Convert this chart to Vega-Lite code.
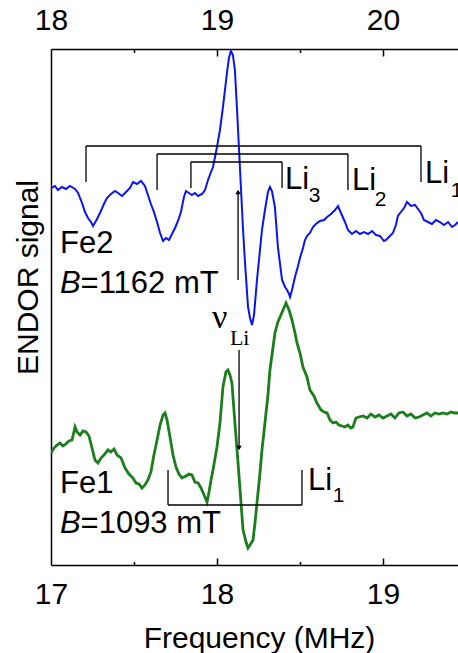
{
"$schema": "https://vega.github.io/schema/vega-lite/v6.json",
"width": 407, "height": 516,
"autosize": {"type": "none"},
"padding": {"left": 51, "top": 49, "right": 0, "bottom": 88},
"config": {"view": {"stroke": null}, "font": "Liberation Sans"},
"resolve": {"scale": {"x": "independent"}, "axis": {"x": "independent"}},
"layer": [
{
 "encoding": {
  "x": {"field": "f", "type": "quantitative", "scale": {"domain": [18, 20.452], "nice": false, "zero": false},
   "axis": {"orient": "top", "values": [18, 19, 20], "format": "d",
    "ticks": false, "domainColor": "black", "domainWidth": 1.5, "grid": false,
    "labelFontSize": 30, "labelFont": "Liberation Sans", "labelColor": "black", "labelPadding": 14, "labelFlush": false, "labelOverlap": false, "title": null}},
  "y": {"field": "s", "type": "quantitative", "scale": {"domain": [0, 516], "nice": false, "zero": false},
   "axis": {"ticks": false, "labels": false, "grid": false, "domainColor": "black", "domainWidth": 1.5, "title": "ENDOR signal",
    "titleFontSize": 30, "titleFont": "Liberation Sans", "titleFontWeight": "normal", "titleColor": "black", "titlePadding": 8, "titleY": 228}}
 },
 "layer": [
  {"data": {"values": [
{"f":18.000,"s":377},{"f":18.024,"s":379},{"f":18.042,"s":375},{"f":18.066,"s":378},{"f":18.090,"s":376},{"f":18.114,"s":379},{"f":18.145,"s":376},{"f":18.163,"s":372},{"f":18.187,"s":362},{"f":18.205,"s":353},{"f":18.223,"s":347},{"f":18.241,"s":343},{"f":18.253,"s":339},{"f":18.271,"s":344},{"f":18.295,"s":352},{"f":18.319,"s":361},{"f":18.337,"s":367},{"f":18.361,"s":371},{"f":18.386,"s":374},{"f":18.404,"s":372},{"f":18.428,"s":369},{"f":18.452,"s":373},{"f":18.476,"s":377},{"f":18.494,"s":383},{"f":18.518,"s":381},{"f":18.542,"s":384},{"f":18.566,"s":379},{"f":18.584,"s":370},{"f":18.602,"s":361},{"f":18.620,"s":353},{"f":18.639,"s":343},{"f":18.657,"s":332},{"f":18.675,"s":324},{"f":18.693,"s":327},{"f":18.711,"s":325},{"f":18.729,"s":331},{"f":18.747,"s":337},{"f":18.765,"s":344},{"f":18.783,"s":353},{"f":18.801,"s":368},{"f":18.813,"s":374},{"f":18.831,"s":372},{"f":18.849,"s":370},{"f":18.867,"s":372},{"f":18.886,"s":369},{"f":18.910,"s":371},{"f":18.928,"s":375},{"f":18.946,"s":385},{"f":18.964,"s":393},{"f":18.976,"s":398},{"f":19.000,"s":418},{"f":19.018,"s":435},{"f":19.036,"s":458},{"f":19.060,"s":492},{"f":19.072,"s":507},{"f":19.084,"s":514},{"f":19.096,"s":510},{"f":19.108,"s":495},{"f":19.120,"s":458},{"f":19.133,"s":415},{"f":19.145,"s":375},{"f":19.157,"s":335},{"f":19.169,"s":302},{"f":19.187,"s":258},{"f":19.199,"s":247},{"f":19.211,"s":240},{"f":19.223,"s":250},{"f":19.241,"s":285},{"f":19.259,"s":315},{"f":19.271,"s":335},{"f":19.289,"s":355},{"f":19.307,"s":373},{"f":19.319,"s":378},{"f":19.331,"s":374},{"f":19.349,"s":358},{"f":19.367,"s":318},{"f":19.392,"s":285},{"f":19.410,"s":278},{"f":19.422,"s":275},{"f":19.434,"s":271},{"f":19.440,"s":268},{"f":19.452,"s":275},{"f":19.470,"s":288},{"f":19.488,"s":299},{"f":19.500,"s":307},{"f":19.518,"s":317},{"f":19.530,"s":325},{"f":19.542,"s":329},{"f":19.560,"s":332},{"f":19.578,"s":338},{"f":19.596,"s":341},{"f":19.620,"s":344},{"f":19.645,"s":345},{"f":19.663,"s":348},{"f":19.687,"s":351},{"f":19.711,"s":355},{"f":19.729,"s":359},{"f":19.747,"s":352},{"f":19.771,"s":343},{"f":19.789,"s":335},{"f":19.813,"s":331},{"f":19.837,"s":334},{"f":19.861,"s":331},{"f":19.886,"s":333},{"f":19.910,"s":331},{"f":19.934,"s":334},{"f":19.958,"s":330},{"f":19.982,"s":329},{"f":20.006,"s":324},{"f":20.018,"s":325},{"f":20.036,"s":328},{"f":20.060,"s":332},{"f":20.078,"s":340},{"f":20.090,"s":349},{"f":20.108,"s":353},{"f":20.127,"s":357},{"f":20.145,"s":363},{"f":20.169,"s":359},{"f":20.193,"s":360},{"f":20.211,"s":356},{"f":20.229,"s":352},{"f":20.247,"s":345},{"f":20.271,"s":343},{"f":20.295,"s":341},{"f":20.319,"s":345},{"f":20.343,"s":343},{"f":20.367,"s":340},{"f":20.392,"s":343},{"f":20.416,"s":338},{"f":20.434,"s":340},{"f":20.452,"s":343}
  ]}, "mark": {"type": "line", "color": "#0a14f0", "strokeWidth": 2, "clip": true}},
  {"data": {"values": [
{"f":18.211,"f2":20.229,"s":419,"s2":419},{"f":18.211,"f2":18.211,"s":419,"s2":383},{"f":20.229,"f2":20.229,"s":419,"s2":383},
{"f":18.639,"f2":19.789,"s":411,"s2":411},{"f":18.639,"f2":18.639,"s":411,"s2":375},{"f":19.789,"f2":19.789,"s":411,"s2":375},
{"f":18.843,"f2":19.392,"s":403,"s2":403},{"f":18.843,"f2":18.843,"s":403,"s2":377},{"f":19.392,"f2":19.392,"s":403,"s2":377},
{"f":19.127,"f2":19.127,"s":285,"s2":374}
  ]}, "mark": {"type": "rule", "color": "black", "strokeWidth": 1.3},
   "encoding": {"x2": {"field": "f2"}, "y2": {"field": "s2"}}},
  {"data": {"values": [{"f":19.127,"s":373}]}, "mark": {"type": "point", "shape": "triangle-up", "filled": true, "color": "black", "size": 30, "opacity": 1}},
  {"data": {"values": [{"f":18.054,"s":312,"t":"Fe2"},{"f":18.178,"s":272,"t":"=1162 mT"},{"f":19.410,"s":376,"t":"Li"},{"f":19.813,"s":375,"t":"Li"},{"f":20.253,"s":382,"t":"Li"}]},
   "mark": {"type": "text", "align": "left", "baseline": "alphabetic", "fontSize": 31, "font": "Liberation Sans", "color": "black"},
   "encoding": {"text": {"field": "t"}}},
  {"data": {"values": [{"f":18.054,"s":272,"t":"B"}]},
   "mark": {"type": "text", "align": "left", "baseline": "alphabetic", "fontSize": 31, "fontStyle": "italic", "font": "Liberation Sans", "color": "black"},
   "encoding": {"text": {"field": "t"}}},
  {"data": {"values": [{"f":19.553,"s":363,"t":"3"},{"f":19.951,"s":359,"t":"2"},{"f":20.409,"s":368,"t":"1"}]},
   "mark": {"type": "text", "align": "left", "baseline": "alphabetic", "fontSize": 21, "font": "Liberation Sans", "color": "black"},
   "encoding": {"text": {"field": "t"}}}
 ]
},
{
 "encoding": {
  "x": {"field": "f", "type": "quantitative", "scale": {"domain": [17, 19.452], "nice": false, "zero": false},
   "axis": {"orient": "bottom", "values": [17, 18, 19], "format": "d",
    "ticks": false, "domainColor": "black", "domainWidth": 1.5, "grid": false,
    "labelFontSize": 30, "labelFont": "Liberation Sans", "labelColor": "black", "labelPadding": 14, "labelFlush": false, "labelOverlap": false,
    "title": "Frequency (MHz)", "titleFontSize": 30, "titleFont": "Liberation Sans", "titleFontWeight": "normal", "titleColor": "black", "titleBaseline": "alphabetic", "titleY": 82, "titleX": 208}},
  "y": {"field": "s", "type": "quantitative", "scale": {"domain": [0, 516], "nice": false, "zero": false},
   "axis": {"ticks": false, "labels": false, "grid": false, "domainColor": "black", "domainWidth": 1.5, "title": "ENDOR signal",
    "titleFontSize": 30, "titleFont": "Liberation Sans", "titleFontWeight": "normal", "titleColor": "black", "titlePadding": 8, "titleY": 228}}
 },
 "layer": [
  {"data": {"values": [
{"f":17.000,"s":112},{"f":17.018,"s":117},{"f":17.036,"s":120},{"f":17.054,"s":122},{"f":17.072,"s":119},{"f":17.090,"s":121},{"f":17.108,"s":124},{"f":17.127,"s":125},{"f":17.145,"s":138},{"f":17.157,"s":133},{"f":17.175,"s":130},{"f":17.193,"s":134},{"f":17.211,"s":133},{"f":17.229,"s":129},{"f":17.247,"s":117},{"f":17.265,"s":105},{"f":17.283,"s":102},{"f":17.301,"s":107},{"f":17.319,"s":110},{"f":17.343,"s":115},{"f":17.361,"s":113},{"f":17.380,"s":116},{"f":17.398,"s":110},{"f":17.422,"s":107},{"f":17.446,"s":97},{"f":17.470,"s":91},{"f":17.494,"s":87},{"f":17.512,"s":82},{"f":17.530,"s":81},{"f":17.548,"s":77},{"f":17.566,"s":80},{"f":17.584,"s":85},{"f":17.602,"s":93},{"f":17.620,"s":110},{"f":17.639,"s":125},{"f":17.657,"s":140},{"f":17.675,"s":150},{"f":17.687,"s":152},{"f":17.699,"s":145},{"f":17.717,"s":128},{"f":17.735,"s":110},{"f":17.753,"s":98},{"f":17.771,"s":91},{"f":17.789,"s":87},{"f":17.813,"s":89},{"f":17.831,"s":91},{"f":17.849,"s":90},{"f":17.867,"s":83},{"f":17.886,"s":82},{"f":17.904,"s":77},{"f":17.922,"s":70},{"f":17.940,"s":63},{"f":17.952,"s":73},{"f":17.964,"s":85},{"f":17.976,"s":95},{"f":18.000,"s":118},{"f":18.018,"s":142},{"f":18.036,"s":178},{"f":18.054,"s":193},{"f":18.066,"s":195},{"f":18.078,"s":190},{"f":18.090,"s":182},{"f":18.108,"s":142},{"f":18.127,"s":102},{"f":18.139,"s":75},{"f":18.157,"s":35},{"f":18.175,"s":23},{"f":18.187,"s":17},{"f":18.199,"s":20},{"f":18.217,"s":25},{"f":18.229,"s":42},{"f":18.241,"s":62},{"f":18.259,"s":92},{"f":18.271,"s":115},{"f":18.289,"s":142},{"f":18.307,"s":170},{"f":18.319,"s":195},{"f":18.337,"s":217},{"f":18.349,"s":232},{"f":18.367,"s":243},{"f":18.380,"s":248},{"f":18.398,"s":255},{"f":18.416,"s":262},{"f":18.434,"s":255},{"f":18.452,"s":245},{"f":18.470,"s":232},{"f":18.482,"s":222},{"f":18.500,"s":212},{"f":18.518,"s":198},{"f":18.542,"s":188},{"f":18.560,"s":175},{"f":18.584,"s":169},{"f":18.602,"s":162},{"f":18.627,"s":155},{"f":18.645,"s":153},{"f":18.663,"s":152},{"f":18.681,"s":145},{"f":18.699,"s":142},{"f":18.717,"s":143},{"f":18.735,"s":140},{"f":18.753,"s":139},{"f":18.771,"s":138},{"f":18.789,"s":140},{"f":18.807,"s":137},{"f":18.819,"s":138},{"f":18.837,"s":147},{"f":18.855,"s":148},{"f":18.880,"s":149},{"f":18.904,"s":147},{"f":18.928,"s":151},{"f":18.952,"s":148},{"f":18.976,"s":150},{"f":19.000,"s":147},{"f":19.024,"s":149},{"f":19.048,"s":151},{"f":19.072,"s":147},{"f":19.096,"s":152},{"f":19.120,"s":153},{"f":19.145,"s":149},{"f":19.169,"s":151},{"f":19.193,"s":147},{"f":19.217,"s":148},{"f":19.241,"s":150},{"f":19.265,"s":152},{"f":19.289,"s":149},{"f":19.313,"s":152},{"f":19.337,"s":151},{"f":19.361,"s":152},{"f":19.386,"s":151},{"f":19.410,"s":153},{"f":19.434,"s":152},{"f":19.452,"s":152}
  ]}, "mark": {"type": "line", "color": "#1b7d1b", "strokeWidth": 2.8, "clip": true}},
  {"data": {"values": [
{"f":17.705,"f2":18.512,"s":60,"s2":60},{"f":17.705,"f2":17.705,"s":60,"s2":95},{"f":18.512,"f2":18.512,"s":60,"s2":95},
{"f":18.133,"f2":18.133,"s":215,"s2":116}
  ]}, "mark": {"type": "rule", "color": "black", "strokeWidth": 1.3},
   "encoding": {"x2": {"field": "f2"}, "y2": {"field": "s2"}}},
  {"data": {"values": [{"f":18.133,"s":117}]}, "mark": {"type": "point", "shape": "triangle-down", "filled": true, "color": "black", "size": 30, "opacity": 1}},
  {"data": {"values": [{"f":17.054,"s":72,"t":"Fe1"},{"f":17.178,"s":32,"t":"=1093 mT"},{"f":18.548,"s":75,"t":"Li"}]},
   "mark": {"type": "text", "align": "left", "baseline": "alphabetic", "fontSize": 31, "font": "Liberation Sans", "color": "black"},
   "encoding": {"text": {"field": "t"}}},
  {"data": {"values": [{"f":17.054,"s":32,"t":"B"}]},
   "mark": {"type": "text", "align": "left", "baseline": "alphabetic", "fontSize": 31, "fontStyle": "italic", "font": "Liberation Sans", "color": "black"},
   "encoding": {"text": {"field": "t"}}},
  {"data": {"values": [{"f":18.698,"s":63,"t":"1"}]},
   "mark": {"type": "text", "align": "left", "baseline": "alphabetic", "fontSize": 21, "font": "Liberation Sans", "color": "black"},
   "encoding": {"text": {"field": "t"}}},
  {"data": {"values": [{"f":17.970,"s":237,"t":"ν"}]},
   "mark": {"type": "text", "align": "left", "baseline": "alphabetic", "fontSize": 34, "font": "Liberation Serif", "color": "black"},
   "encoding": {"text": {"field": "t"}}},
  {"data": {"values": [{"f":18.078,"s":220,"t":"Li"}]},
   "mark": {"type": "text", "align": "left", "baseline": "alphabetic", "fontSize": 22, "font": "Liberation Serif", "color": "black"},
   "encoding": {"text": {"field": "t"}}}
 ]
},
{
 "data": {"values": [{"f":18.5},{"f":19.5}]},
 "mark": {"type": "point", "opacity": 0},
 "encoding": {"x": {"field": "f", "type": "quantitative", "scale": {"domain": [18, 20.452], "nice": false, "zero": false},
   "axis": {"orient": "top", "offset": -7, "values": [19, 20], "domain": false, "labels": false, "grid": false, "title": null,
    "ticks": true, "tickSize": 7, "tickWidth": 1.5, "tickColor": "black"}}}
},
{
 "data": {"values": [{"f":17.5},{"f":18.5}]},
 "mark": {"type": "point", "opacity": 0},
 "encoding": {"x": {"field": "f", "type": "quantitative", "scale": {"domain": [17, 19.452], "nice": false, "zero": false},
   "axis": {"orient": "bottom", "offset": -7, "values": [18, 19], "domain": false, "labels": false, "grid": false, "title": null,
    "ticks": true, "tickSize": 7, "tickWidth": 1.5, "tickColor": "black"}}}
},
{
 "data": {"values": [{"f":18.5},{"f":19.5}]},
 "mark": {"type": "point", "opacity": 0},
 "encoding": {"x": {"field": "f", "type": "quantitative", "scale": {"domain": [18, 20.452], "nice": false, "zero": false},
   "axis": {"orient": "top", "offset": -3.5, "values": [18.5, 19.5], "domain": false, "labels": false, "grid": false, "title": null,
    "ticks": true, "tickSize": 3.5, "tickWidth": 1.5, "tickColor": "black"}}}
},
{
 "data": {"values": [{"f":17.5},{"f":18.5}]},
 "mark": {"type": "point", "opacity": 0},
 "encoding": {"x": {"field": "f", "type": "quantitative", "scale": {"domain": [17, 19.452], "nice": false, "zero": false},
   "axis": {"orient": "bottom", "offset": -3.5, "values": [17.5, 18.5], "domain": false, "labels": false, "grid": false, "title": null,
    "ticks": true, "tickSize": 3.5, "tickWidth": 1.5, "tickColor": "black"}}}
}
]
}
